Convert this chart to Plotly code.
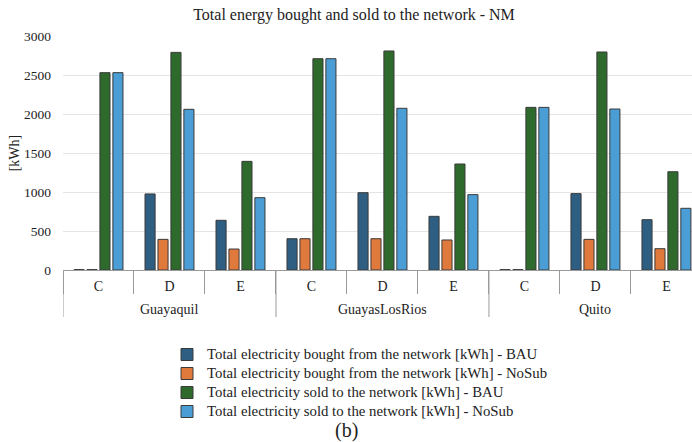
import plotly.graph_objects as go

regions = ["Guayaquil"] * 3 + ["GuayasLosRios"] * 3 + ["Quito"] * 3
cases = ["C", "D", "E"] * 3
region_names = ["Guayaquil", "GuayasLosRios", "Quito"]

bought_bau = [5, 975, 637, 401, 991, 688, 5, 979, 645]
bought_nosub = [5, 393, 269, 401, 401, 385, 5, 393, 273]
sold_bau = [2530, 2790, 1393, 2709, 2808, 1359, 2085, 2795, 1260]
sold_nosub = [2530, 2060, 927, 2709, 2073, 966, 2085, 2064, 791]

names = [
    "Total electricity bought from the network [kWh] - BAU",
    "Total electricity bought from the network [kWh] - NoSub",
    "Total electricity sold to the network [kWh] - BAU",
    "Total electricity sold to the network [kWh] - NoSub",
]
colors = ["#2E5E82", "#E07A3C", "#2F6A2D", "#4A9DD5"]
series = [bought_bau, bought_nosub, sold_bau, sold_nosub]

FONT = "Liberation Serif"
TXT = "#222222"
W, H = 692, 442
L, R, T, B = 63, 0, 36, 172
PW, PH = W - L - R, H - T - B


def px(x):
    return (x - L) / PW


def py(y):
    return (H - B - y) / PH


cats = [f"{r} | {c}" for r, c in zip(regions, cases)]

fig = go.Figure()
for name, col, vals in zip(names, colors, series):
    fig.add_trace(go.Bar(
        x=cats, y=vals,
        name=f"<span style='font-size:14.8px'>{name}</span>",
        marker=dict(color=col, line=dict(color="#3a3a3a", width=1)),
    ))

# group dividers and group labels under the category axis
shapes = []
annotations = []
for i, reg in enumerate(region_names):
    left = 3 * i - 0.5
    shapes.append(dict(type="line", xref="x", yref="paper", x0=left, x1=left,
                       y0=0, y1=py(317), line=dict(color="#9a9a9a", width=1)))
    annotations.append(dict(text=reg, xref="x", yref="paper", x=3 * i + 1, y=py(309),
                            xanchor="center", yanchor="middle", showarrow=False,
                            font=dict(family=FONT, size=14, color=TXT)))
annotations.append(dict(text="(b)", x=px(346), y=py(430),
                        xref="paper", yref="paper", showarrow=False,
                        xanchor="center", yanchor="middle",
                        font=dict(family=FONT, size=20, color=TXT)))

fig.update_layout(
    width=W, height=H,
    margin=dict(l=L, r=R, t=T, b=B, autoexpand=False),
    paper_bgcolor="white", plot_bgcolor="white",
    font=dict(family=FONT, size=14, color=TXT),
    barmode="group", bargap=0.27, bargroupgap=0.22,
    title=dict(text="Total energy bought and sold to the network - NM",
               x=354 / W, xref="container", xanchor="center",
               y=1 - 14 / H, yref="container", yanchor="middle",
               font=dict(family=FONT, size=16, color=TXT)),
    legend=dict(orientation="v", x=px(167), xanchor="left",
                y=py(340), yanchor="top",
                font=dict(family=FONT, size=12, color=TXT),
                tracegroupgap=0, itemwidth=30, traceorder="normal"),
    shapes=shapes,
    annotations=annotations,
)

fig.update_xaxes(
    type="category", range=[-0.5, 8.36],
    tickvals=cats, ticktext=cases,
    showline=True, linecolor="#9a9a9a", linewidth=1,
    ticks="outside", tickson="boundaries", ticklen=23, tickcolor="#9a9a9a",
    ticklabelstandoff=3,
    tickfont=dict(family=FONT, size=14, color=TXT),
    showgrid=False, automargin=False,
)
fig.update_yaxes(
    range=[0, 3000], dtick=500, showgrid=True, gridcolor="#e4e4e4", gridwidth=1,
    zeroline=False, showline=False, ticks="", ticklabelstandoff=11,
    tickfont=dict(family=FONT, size=13.5, color=TXT), automargin=False,
    title=dict(text="[kWh]", standoff=1, font=dict(family=FONT, size=14, color=TXT)),
)

fig.write_html("out.html", config={"displayModeBar": False},
               post_script="document.body.style.margin='0px';")
